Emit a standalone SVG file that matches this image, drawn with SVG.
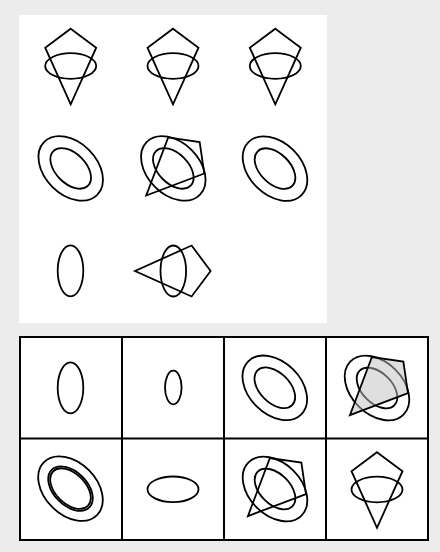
<svg xmlns="http://www.w3.org/2000/svg" xmlns:xlink="http://www.w3.org/1999/xlink" width="440" height="552" viewBox="0 0 440 552">
<style>
.s{fill:none;stroke:#000;stroke-width:1.8;stroke-linejoin:miter}
.grid{fill:#fff;stroke:#000;stroke-width:2}
.gl{stroke:#000;stroke-width:2}
.shade{fill:#c0c0c0;fill-opacity:0.5;stroke:#000;stroke-width:1.8}
</style>
<defs>
<polygon id="kite" points="0,-37.3 25.5,-18.3 0,38.3 -25.5,-18.3"/>
<ellipse id="el" cx="0" cy="0" rx="25.5" ry="12.8"/>
<ellipse id="iel" cx="0" cy="0" rx="24.5" ry="15"/>
<ellipse id="oel" cx="0" cy="0" rx="37.5" ry="26"/>
<ellipse id="el2" cx="0" cy="0" rx="26.6" ry="16.8"/>
</defs>
<rect x="0" y="0" width="440" height="552" fill="#ececec"/>
<rect x="19" y="15" width="308" height="308" fill="#fff"/>
<g id="r1c1" class="s" transform="translate(70.7,66)"><use href="#kite"/><use href="#el"/></g>
<g id="r1c2" class="s" transform="translate(173,66)"><use href="#kite"/><use href="#el"/></g>
<g id="r1c3" class="s" transform="translate(275.3,66)"><use href="#kite"/><use href="#el"/></g>
<g id="r2c1" class="s" transform="translate(70.7,168.4) rotate(45)"><use href="#iel"/><use href="#oel"/></g>
<g id="r2c2" class="s" transform="translate(173.3,168.4) rotate(45)"><use href="#iel"/><use href="#oel"/><use href="#kite"/></g>
<g id="r2c3" class="s" transform="translate(275,168.6) rotate(45)"><use href="#iel"/><use href="#oel"/></g>
<g id="r3c1" class="s" transform="translate(70.5,270.8) rotate(90)"><use href="#el"/></g>
<g id="r3c2" class="s" transform="translate(173.3,271) rotate(90)"><use href="#el"/><use href="#kite"/></g>
<g id="answers">
<rect class="grid" x="20" y="337" width="408" height="203"/>
<line class="gl" x1="122" y1="337" x2="122" y2="540"/>
<line class="gl" x1="224" y1="337" x2="224" y2="540"/>
<line class="gl" x1="326" y1="337" x2="326" y2="540"/>
<line class="gl" x1="20" y1="438.5" x2="428" y2="438.5"/>
</g>
<g id="a1" class="s" transform="translate(70.5,387.8) rotate(90)"><use href="#el"/></g>
<g id="a2" class="s" transform="translate(173.3,387.5)"><ellipse cx="0" cy="0" rx="8.3" ry="16.8"/></g>
<g id="a3" class="s" transform="translate(274.8,387.8) rotate(45)"><use href="#iel"/><use href="#oel"/></g>
<g id="a4" class="s" transform="translate(377,388) rotate(45)"><use href="#iel"/><use href="#oel"/><use href="#kite" class="shade"/></g>
<g id="a5" class="s" transform="translate(70.5,488.6) rotate(45)"><use href="#iel"/><use href="#el2"/><use href="#oel"/></g>
<g id="a6" class="s" transform="translate(173,489.3)"><use href="#el"/></g>
<g id="a7" class="s" transform="translate(275,489) rotate(45)"><use href="#iel"/><use href="#oel"/><use href="#kite"/></g>
<g id="a8" class="s" transform="translate(377,489.5)"><use href="#kite"/><use href="#el"/></g>
</svg>
